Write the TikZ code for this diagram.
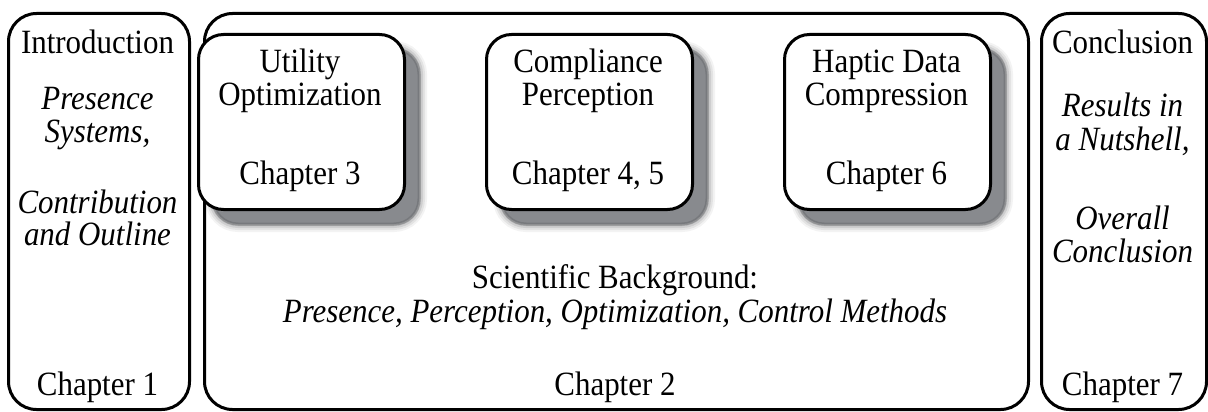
\documentclass[tikz,border=0pt]{standalone}
\usepackage{fontspec}
\setmainfont[FakeStretch=0.91]{Liberation Serif}
\definecolor{shadowgray}{RGB}{136,138,142}
\definecolor{shadowedge}{RGB}{90,91,94}
\begin{document}
\begin{tikzpicture}[x=1pt,y=-1pt,
  frame/.style={draw=black, line width=3pt, rounded corners=28pt, fill=white, inner sep=0pt},
  chapbox/.style={draw=black, line width=3pt, rounded corners=25pt, fill=white, inner sep=0pt,
     minimum width=206pt, minimum height=175pt, anchor=north west},
  txt/.style={font=\fontsize{34}{36}\selectfont, anchor=base, inner sep=0pt},
  itx/.style={font=\fontsize{34}{36}\selectfont\itshape, anchor=base, inner sep=0pt}]
\useasboundingbox (0,0) rectangle (1208,412);

% outer frames
\node[frame, minimum width=181pt, minimum height=396pt, anchor=north west] (intro) at (7,12) {};
\node[frame, minimum width=824pt, minimum height=396pt, anchor=north west] (bg) at (203,12) {};
\node[frame, minimum width=165pt, minimum height=396pt, anchor=north west] (concl) at (1040,12) {};

% shadows
\foreach \x in {197,485,783}{
  \begin{scope}[shift={(\x+16,49)}]
    \foreach \w/\o in {16/0.07,12/0.1,8/0.15,4/0.25}{
      \draw[draw=shadowedge, line width=\w pt, opacity=\o, rounded corners=25pt] (0,0) rectangle (206,175);
    }
    \fill[shadowgray, rounded corners=25pt] (0,0) rectangle (206,175);
    \draw[draw=shadowedge, line width=3pt, opacity=0.35, rounded corners=25pt] (0,0) rectangle (206,175);
  \end{scope}
}

% chapter boxes
\node[chapbox] (c3) at (197,33) {};
\node[chapbox] (c45) at (485,33) {};
\node[chapbox] (c6) at (783,33) {};

% intro text
\node[txt] (i1) at (97.5,54) {Introduction};
\node[itx] (i2) at (97.5,110) {Presence};
\node[itx] (i3) at (97.5,142) {Systems,};
\node[itx] (i4) at (97.5,213) {Contribution};
\node[itx] (i5) at (97.5,245) {and Outline};
\node[txt] (i6) at (97.5,395) {Chapter 1};

% conclusion text
\node[txt] (k1) at (1122.5,54) {Conclusion};
\node[itx] (k2) at (1122.5,116) {Results in};
\node[itx] (k3) at (1122.5,150) {a Nutshell,};
\node[itx] (k4) at (1122.5,229) {Overall};
\node[itx] (k5) at (1122.5,262) {Conclusion};
\node[txt] (k6) at (1122.5,395) {Chapter 7};

% chapter box texts
\node[txt] (u1) at (300,73) {Utility};
\node[txt] (u2) at (300,106) {Optimization};
\node[txt] (u3) at (300,184) {Chapter 3};
\node[txt] (p1) at (588,73) {Compliance};
\node[txt] (p2) at (588,106) {Perception};
\node[txt] (p3) at (588,184) {Chapter 4, 5};
\node[txt] (h1) at (886.5,73) {Haptic Data};
\node[txt] (h2) at (886.5,106) {Compression};
\node[txt] (h3) at (886.5,184) {Chapter 6};

% background text
\node[txt] (s1) at (615,288) {Scientific Background:};
\node[itx] (s2) at (615,322) {Presence, Perception, Optimization, Control Methods};
\node[txt] (s3) at (615,395) {Chapter 2};
\end{tikzpicture}
\end{document}
